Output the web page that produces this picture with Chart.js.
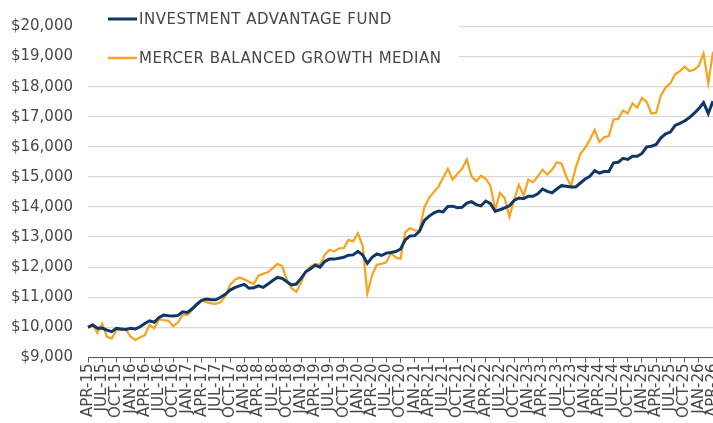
<!DOCTYPE html>
<html>
<head>
<meta charset="utf-8">
<title>Investment Advantage Fund vs Mercer Balanced Growth Median</title>
<script src="https://cdn.jsdelivr.net/npm/chart.js@4/dist/chart.umd.min.js"></script>
<style>
    html, body { margin: 0; padding: 0; background: #fff; }
    #wrap { position: relative; width: 713px; height: 423px; }
</style>
</head>
<body>
<div id="wrap"><canvas id="growth-chart"></canvas></div>
<script>
(function() {
    'use strict';

    // Month axis: APR-15 .. APR-26, labelled every third month
    var MONTHS = ['JAN', 'FEB', 'MAR', 'APR', 'MAY', 'JUN', 'JUL', 'AUG', 'SEP', 'OCT', 'NOV', 'DEC'];
    var START_YEAR = 2015;
    var START_MONTH = 3; // APR
    var MONTH_COUNT = 133;

    var categories = [];
    for (var i = 0; i < MONTH_COUNT; i++) {
        var m = (START_MONTH + i) % 12;
        var y = START_YEAR + Math.floor((START_MONTH + i) / 12);
        categories.push(MONTHS[m] + '-' + String(y).slice(2));
    }

    var seriesNames = ['INVESTMENT ADVANTAGE FUND', 'MERCER BALANCED GROWTH MEDIAN'];

    // Growth of $10,000
    var fundValues = [
        10000, 10080, 9970, 9980, 9910, 9860, 9970, 9950, 9930, 9970, 9950, 10020,
        10130, 10220, 10170, 10330, 10410, 10390, 10380, 10400, 10520, 10500, 10620, 10770,
        10900, 10940, 10920, 10920, 11000, 11100, 11240, 11320, 11380, 11430, 11300, 11320,
        11380, 11330, 11440, 11560, 11660, 11630, 11520, 11410, 11440, 11630, 11850, 11950,
        12070, 12000, 12190, 12270, 12270, 12300, 12330, 12400, 12410, 12530, 12410, 12130,
        12330, 12440, 12390, 12470, 12490, 12520, 12600, 12910, 13040, 13050, 13190, 13550,
        13690, 13800, 13870, 13840, 14020, 14030, 13980, 13990, 14130, 14180, 14080, 14040,
        14200, 14110, 13860, 13910, 13970, 14040, 14220, 14300, 14280, 14360, 14360, 14440,
        14600, 14520, 14470, 14600, 14710, 14690, 14670, 14670, 14800, 14930, 15020, 15210,
        15130, 15180, 15180, 15470, 15490, 15620, 15580, 15690, 15690, 15780, 16000, 16020,
        16080, 16300, 16430, 16490, 16710, 16780, 16860, 16970, 17110, 17270, 17470, 17110,
        17520
    ];

    var medianValues = [
        10020, 10100, 9820, 10130, 9690, 9630, 9910, 9910, 9930, 9690, 9580, 9670,
        9740, 10080, 9970, 10270, 10240, 10220, 10040, 10160, 10430, 10410, 10580, 10740,
        10910, 10840, 10800, 10780, 10840, 11040, 11410, 11580, 11660, 11600, 11520, 11440,
        11720, 11780, 11830, 11970, 12110, 12040, 11580, 11300, 11180, 11490, 11870, 12020,
        12110, 12080, 12410, 12580, 12520, 12630, 12630, 12910, 12860, 13130, 12710, 11130,
        11740, 12080, 12110, 12160, 12470, 12320, 12280, 13160, 13300, 13220, 13220, 13970,
        14300, 14490, 14670, 14970, 15270, 14910, 15100, 15270, 15580, 15020, 14860, 15040,
        14940, 14710, 13910, 14470, 14300, 13670, 14240, 14740, 14380, 14910, 14820, 15020,
        15240, 15080, 15240, 15490, 15440, 15020, 14690, 15300, 15770, 15970, 16240, 16560,
        16160, 16320, 16360, 16910, 16930, 17210, 17110, 17450, 17300, 17630, 17490, 17110,
        17130, 17710, 17970, 18110, 18410, 18520, 18670, 18520, 18560, 18690, 19100, 18110,
        19160
    ];

    var yTicks = [9000, 10000, 11000, 12000, 13000, 14000, 15000, 16000, 17000, 18000, 19000, 20000];

    var NAVY = '#0f3768';
    var ORANGE = '#f8a31d';
    var TEXT = '#474747';
    var FONT = '"DejaVu Sans", sans-serif';

    // Legend sits inside the plot on a white patch that hides the top gridlines
    var boxLegend = {
        id: 'boxLegend',
        beforeDatasetsDraw: function(chart) {
            var ctx = chart.ctx;
            var items = [
                { text: seriesNames[0], color: NAVY, width: 3, y: 19 },
                { text: seriesNames[1], color: ORANGE, width: 2.5, y: 58 }
            ];
            ctx.save();
            ctx.fillStyle = '#fff';
            ctx.fillRect(chart.chartArea.left, 0, 459 - chart.chartArea.left, 72);
            ctx.font = '15px ' + FONT;
            ctx.letterSpacing = '0.5px';
            ctx.textBaseline = 'middle';
            items.forEach(function(item) {
                ctx.strokeStyle = item.color;
                ctx.lineWidth = item.width;
                ctx.beginPath();
                ctx.moveTo(108, item.y);
                ctx.lineTo(137, item.y);
                ctx.stroke();
                ctx.fillStyle = TEXT;
                ctx.fillText(item.text, 139, item.y + 1);
            });
            ctx.restore();
        }
    };

    new Chart(document.getElementById('growth-chart'), {
        type: 'line',
        data: {
            labels: categories,
            datasets: [{
                label: seriesNames[0],
                data: fundValues,
                borderColor: NAVY,
                borderWidth: 3,
                pointRadius: 0,
                tension: 0
            }, {
                label: seriesNames[1],
                data: medianValues,
                borderColor: ORANGE,
                borderWidth: 2.2,
                pointRadius: 0,
                tension: 0
            }]
        },
        options: {
            responsive: true,
            maintainAspectRatio: false,
            animation: false,
            layout: { padding: { top: 26.5, right: 0, left: 0, bottom: 0 } },
            plugins: {
                legend: { display: false },
                tooltip: { enabled: false }
            },
            scales: {
                x: {
                    grid: { drawOnChartArea: false, drawTicks: true, tickLength: 5, color: '#595959' },
                    border: { display: true, color: '#595959', width: 1 },
                    ticks: {
                        autoSkip: false,
                        minRotation: 90,
                        maxRotation: 90,
                        padding: 1,
                        color: TEXT,
                        font: { family: FONT, size: 15 },
                        callback: function(value, index) {
                            return index % 3 === 0 ? categories[index] : null;
                        }
                    },
                    afterFit: function(scale) {
                        scale.height = 65.5;
                        scale.paddingLeft = 0;
                        scale.paddingRight = 0;
                    }
                },
                y: {
                    min: yTicks[0],
                    max: yTicks[yTicks.length - 1],
                    grid: { color: '#d9d9d9', lineWidth: 1.3, drawTicks: false },
                    border: { display: false },
                    afterBuildTicks: function(scale) {
                        scale.ticks = yTicks.map(function(v) { return { value: v }; });
                    },
                    ticks: {
                        padding: 15,
                        color: TEXT,
                        font: { family: FONT, size: 15 },
                        callback: function(value) {
                            return '$' + Number(value).toLocaleString('en-US');
                        }
                    },
                    afterFit: function(scale) {
                        scale.width = 88;
                        scale.paddingTop = 0;
                        scale.paddingBottom = 0;
                    }
                }
            }
        },
        plugins: [boxLegend]
    });
})();
</script>
</body>
</html>
